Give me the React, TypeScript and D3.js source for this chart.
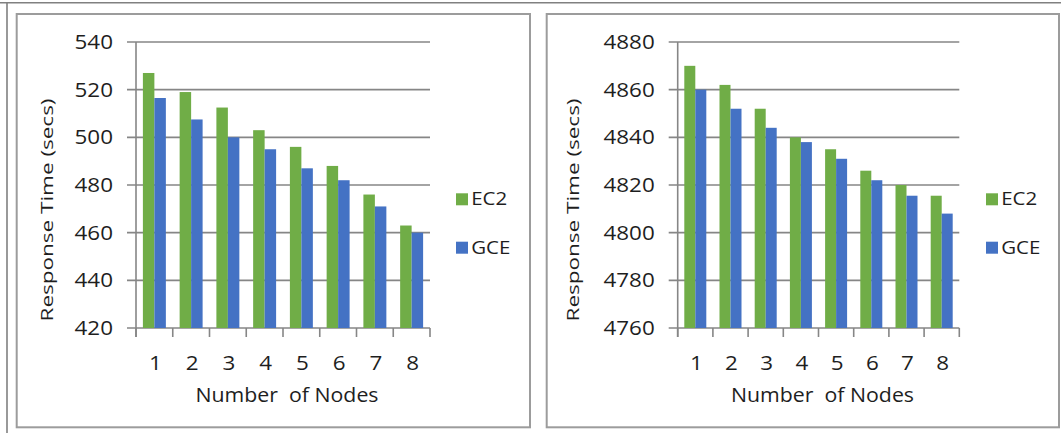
import React from "react";
import * as d3 from "d3";

const categories = ["1", "2", "3", "4", "5", "6", "7", "8"];
const seriesNames = ["EC2", "GCE"];
const ec2Small = [527, 519, 512.5, 503, 496, 488, 476, 463];
const gceSmall = [516.5, 507.5, 500, 495, 487, 482, 471, 460];
const ec2Large = [4870, 4862, 4852, 4840, 4835, 4826, 4820, 4815.5];
const gceLarge = [4860, 4852, 4844, 4838, 4831, 4822, 4815.5, 4808];
const ticksSmall = [420, 440, 460, 480, 500, 520, 540];
const ticksLarge = [4760, 4780, 4800, 4820, 4840, 4860, 4880];

const COLORS = ["#70AD47", "#4472C4"];
const FONT = "'Open Sans', sans-serif";
const TEXT = "#1e1e1e";
const WEIGHT = 500;
const GRID = "#868686";
const SX = 1.15;

type PanelProps = {
  boxX: number;
  boxW: number;
  plotLeft: number;
  plotRight: number;
  titleX: number;
  ec2: number[];
  gce: number[];
  ticks: number[];
};

function Panel({ boxX, boxW, plotLeft, plotRight, titleX, ec2, gce, ticks }: PanelProps) {
  const top = 42;
  const bottom = 328;
  const y = d3.scaleLinear().domain([ticks[0], ticks[ticks.length - 1]]).range([bottom, top]);
  const x0 = d3.scaleBand<string>().domain(categories).range([plotLeft, plotRight]).padding(0);
  const x1 = d3
    .scaleBand<string>()
    .domain(seriesNames)
    .range([0, x0.step()])
    .paddingInner(0)
    .paddingOuter(0.6);
  const data = [ec2, gce];
  const fs = 19.5;
  const tickLen = 9;
  const plotCenter = (plotLeft + plotRight) / 2 + 4;
  return (
    <g>
      <rect x={boxX} y={14} width={boxW} height={413.3} fill="#fff" stroke="#9c9c9c" strokeWidth={2} />
      {ticks.map((t) => (
        <line key={"g" + t} x1={plotLeft - tickLen} x2={plotRight} y1={y(t)} y2={y(t)} stroke={GRID} strokeWidth={1.6} />
      ))}
      {data.map((vals, si) =>
        vals.map((v, i) => (
          <rect
            key={si + "-" + i}
            x={(x0(categories[i]) as number) + (x1(seriesNames[si]) as number)}
            y={y(v)}
            width={x1.bandwidth()}
            height={y(ticks[0]) - y(v)}
            fill={COLORS[si]}
          />
        ))
      )}
      <line x1={plotLeft} x2={plotLeft} y1={top} y2={bottom + tickLen} stroke={GRID} strokeWidth={1.6} />
      {categories.concat(["end"]).map((c, i) => {
        const xx = i < categories.length ? (x0(c) as number) : plotRight;
        return <line key={"t" + i} x1={xx} x2={xx} y1={bottom} y2={bottom + tickLen} stroke={GRID} strokeWidth={1.6} />;
      })}
      {ticks.map((t) => (
        <text
          key={"l" + t}
          transform={`translate(${plotLeft - tickLen - 14},${y(t) + 0.357 * fs}) scale(${SX},1)`}
          textAnchor="end"
          fontSize={fs}
          fontFamily={FONT}
          fontWeight={WEIGHT}
          fill={TEXT}
        >
          {t}
        </text>
      ))}
      {categories.map((c) => (
        <text
          key={"x" + c}
          transform={`translate(${(x0(c) as number) + x0.bandwidth() / 2 + 1},${370}) scale(${SX},1)`}
          textAnchor="middle"
          fontSize={fs}
          fontFamily={FONT}
          fontWeight={WEIGHT}
          fill={TEXT}
        >
          {c}
        </text>
      ))}
      <text
        x={plotCenter}
        y={402}
        textAnchor="middle"
        fontSize={19.5}
        fontFamily={FONT}
        fontWeight={WEIGHT}
        fill={TEXT}
        textLength={183}
        lengthAdjust="spacingAndGlyphs"
        style={{ whiteSpace: "pre" }}
      >
        {"Number  of Nodes"}
      </text>
      <text
        transform={`translate(${titleX},210) rotate(-90)`}
        textAnchor="middle"
        fontSize={17}
        fontFamily={FONT}
        fontWeight={WEIGHT}
        fill={TEXT}
        textLength={223}
        lengthAdjust="spacingAndGlyphs"
      >
        Response Time (secs)
      </text>
      {seriesNames.map((s, i) => (
        <g key={"lg" + s}>
          <rect x={boxX + 439.3} y={193.3 + i * 48.4} width={12} height={12} fill={COLORS[i]} />
          <text
            transform={`translate(${boxX + 454.5},${205.3 + i * 48.4}) scale(${SX},1)`}
            fontSize={17.8}
            fontFamily={FONT}
            fontWeight={WEIGHT}
            fill={TEXT}
          >
            {s}
          </text>
        </g>
      ))}
    </g>
  );
}

export default function App() {
  return (
    <svg
      width={1061}
      height={433}
      style={{ position: "absolute", left: 0, top: 0, background: "#fff" }}
    >
      <rect x={0} y={0} width={1061} height={433} fill="#fff" />
      <line x1={0} x2={1061} y1={2.7} y2={2.7} stroke="#808080" strokeWidth={1.6} />
      <line x1={7} x2={7} y1={2.7} y2={433} stroke="#808080" strokeWidth={1.6} />
      <Panel
        boxX={16.7}
        boxW={513.3}
        plotLeft={136}
        plotRight={430}
        titleX={52.5}
        ec2={ec2Small}
        gce={gceSmall}
        ticks={ticksSmall}
      />
      <Panel
        boxX={546.7}
        boxW={512.3}
        plotLeft={677.7}
        plotRight={959.3}
        titleX={578.5}
        ec2={ec2Large}
        gce={gceLarge}
        ticks={ticksLarge}
      />
    </svg>
  );
}
